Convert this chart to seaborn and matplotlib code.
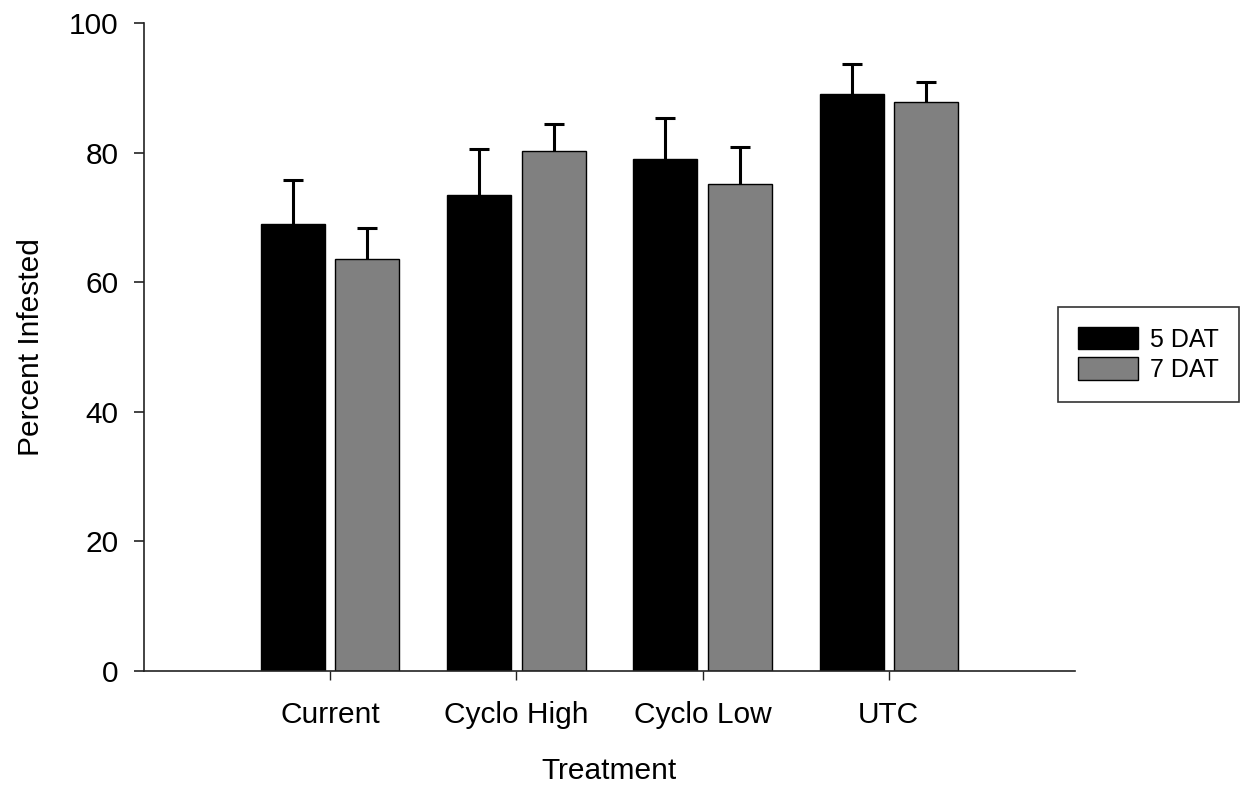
import numpy as np
import pandas as pd
import matplotlib
matplotlib.use("Agg")
import matplotlib.pyplot as plt
import seaborn as sns

# Percent infested by treatment, at 5 and 7 days after treatment (mean and upper error)
treatments = ["Current", "Cyclo High", "Cyclo Low", "UTC"]
timings = ["5 DAT", "7 DAT"]
mean_5dat = [69.0, 73.5, 79.0, 89.1]
mean_7dat = [63.6, 80.2, 75.2, 87.8]
err_5dat = [6.8, 7.0, 6.4, 4.6]
err_7dat = [4.8, 4.2, 5.6, 3.1]

df = pd.DataFrame({
    "Treatment": treatments * 2,
    "Timing": [timings[0]] * 4 + [timings[1]] * 4,
    "Percent": mean_5dat + mean_7dat,
})
errors = {timings[0]: err_5dat, timings[1]: err_7dat}

sns.set_style("ticks")
plt.rcParams["font.family"] = ["Liberation Sans", "DejaVu Sans"]
plt.rcParams["text.color"] = "black"
plt.rcParams["axes.labelcolor"] = "black"

fig = plt.figure(figsize=(12.51, 7.88), dpi=100)
ax = fig.add_axes([0.1151, 0.1485, 0.8593 - 0.1151, 0.9708 - 0.1485])

palette = {timings[0]: "#000000", timings[1]: "#808080"}
sns.barplot(data=df, x="Treatment", y="Percent", hue="Timing",
            order=treatments, hue_order=timings, palette=palette,
            width=0.8, gap=0.14, errorbar=None, edgecolor="black",
            linewidth=1.0, saturation=1, ax=ax)

# One-sided (upper) error bars placed on the drawn bars
for container, level in zip(ax.containers, timings):
    xs = [b.get_x() + b.get_width() / 2 for b in container]
    hs = np.array([b.get_height() for b in container])
    up = errors[level]
    eb = ax.errorbar(xs, hs, yerr=[np.zeros(len(up)), up], fmt="none",
                     ecolor="black", elinewidth=2.2, capsize=7.5,
                     capthick=2.2, zorder=1)
    # keep only the caps at the top end
    for cap in eb[1]:
        if np.allclose(cap.get_ydata(), hs):
            cap.set_visible(False)

ax.set_xlim(-1, 4)
ax.set_ylim(0, 100)
ax.set_yticks([0, 20, 40, 60, 80, 100])
sns.despine(ax=ax)
for side in ("left", "bottom"):
    ax.spines[side].set_linewidth(1.2)
    ax.spines[side].set_color("#222222")

ax.tick_params(axis="y", direction="out", length=7, width=1.2, pad=11.5,
               labelsize=21.5, colors="#222222", labelcolor="black")
ax.tick_params(axis="x", direction="out", length=6.5, width=1.0, pad=15,
               labelsize=21.5, colors="#222222", labelcolor="black")

ax.set_xlabel("Treatment", fontsize=21.5, labelpad=20, color="black")
ax.set_ylabel("Percent Infested", fontsize=21.5, labelpad=17, color="black")

handles, labels = ax.get_legend_handles_labels()
ax.get_legend().remove()
leg = fig.legend(handles, labels, loc="upper left",
                 bbox_to_anchor=(1058 / 1251, 1 - 307 / 788),
                 bbox_transform=fig.transFigure, fontsize=18,
                 frameon=True, fancybox=False, edgecolor="black",
                 handlelength=2.4, handleheight=1.0, labelspacing=0.22,
                 handletextpad=0.5, borderpad=0.8, borderaxespad=0,
                 labelcolor="black")
leg.get_frame().set_linewidth(1.2)

fig.savefig("out.png", dpi=100, facecolor="white")
